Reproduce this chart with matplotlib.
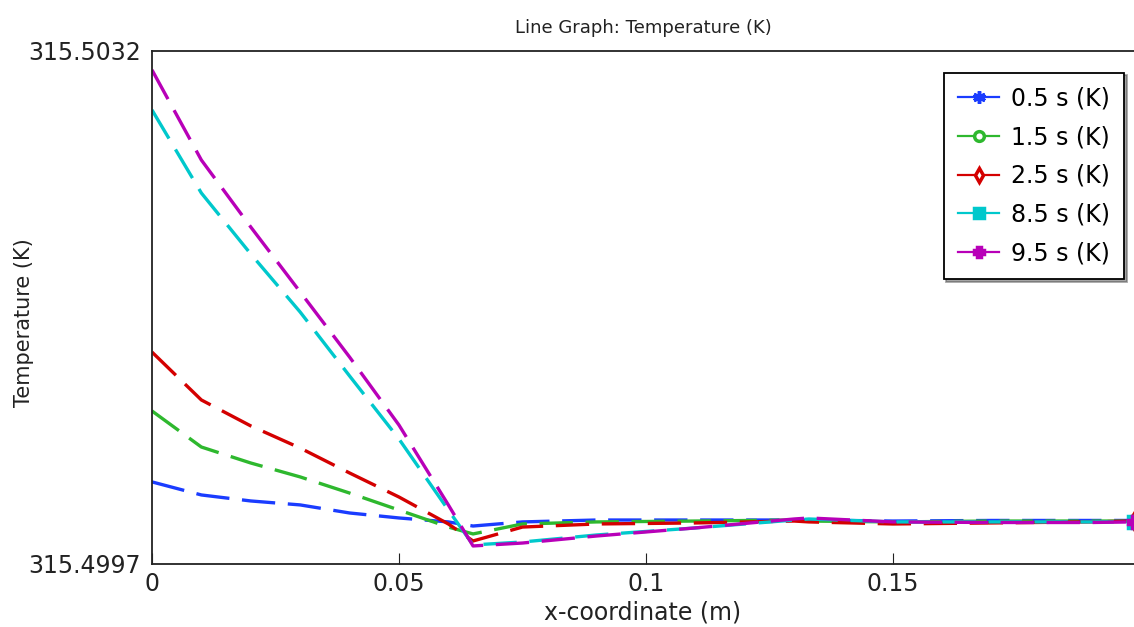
import matplotlib
matplotlib.use("Agg")
import matplotlib.pyplot as plt
from matplotlib.lines import Line2D

# x positions of the sampled points (m)
x_coord = [0, 0.01, 0.02, 0.03, 0.04, 0.05, 0.06, 0.065, 0.075, 0.09,
           0.11, 0.13, 0.133, 0.15, 0.17, 0.19, 0.1987]

temp_05 = [315.500260, 315.500171, 315.500130, 315.500103, 315.500048, 315.500014,
           315.499987, 315.499959, 315.499987, 315.500000, 315.500000, 315.500000,
           315.500000, 315.499993, 315.499997, 315.499997, 315.499997]
temp_15 = [315.500744, 315.500498, 315.500389, 315.500294, 315.500184, 315.500068,
           315.499952, 315.499905, 315.499973, 315.499987, 315.499993, 315.500000,
           315.499993, 315.499987, 315.499993, 315.499993, 315.499993]
temp_25 = [315.501146, 315.500819, 315.500642, 315.500491, 315.500321, 315.500157,
           315.499973, 315.499857, 315.499952, 315.499973, 315.499980, 315.499993,
           315.499987, 315.499973, 315.499980, 315.499987, 315.499993]
temp_85 = [315.502798, 315.502231, 315.501815, 315.501419, 315.500983, 315.500553,
           315.500068, 315.499830, 315.499850, 315.499898, 315.499946, 315.500000,
           315.500007, 315.499987, 315.499987, 315.499987, 315.499987]
temp_95 = [315.503071, 315.502456, 315.501999, 315.501556, 315.501112, 315.500648,
           315.500103, 315.499823, 315.499843, 315.499891, 315.499946, 315.500007,
           315.500014, 315.499987, 315.499983, 315.499983, 315.499987]

labels = ["0.5 s (K)", "1.5 s (K)", "2.5 s (K)", "8.5 s (K)", "9.5 s (K)"]
colors = ["#1a3cff", "#2eb82e", "#d40000", "#00c8cc", "#b800b8"]
markers = [(6, 2, 0), "o", "d", "s", "P"]
filled = [True, False, False, True, True]

y_min, y_max = 315.4997, 315.5032

fig = plt.figure(figsize=(11.34, 6.27), dpi=100)
ax = fig.add_axes([0.134, 0.1005, 0.866, 0.8182])

series = [temp_05, temp_15, temp_25, temp_85, temp_95]
handles = []
for y, lab, c, m, f in zip(series, labels, colors, markers, filled):
    ax.plot(x_coord, y, color=c, lw=2.4, dashes=(10, 3.8))
    ax.plot(x_coord[-1:], y[-1:], color=c, marker=m, ms=8,
            mfc=c if f else "white", mec=c, mew=2.5, ls="none")
    handles.append(Line2D([], [], color=c, lw=1.6, marker=m,
                          ms=9 if m == markers[0] else 7,
                          mfc=c if f else "white", mec=c, mew=2.5, label=lab))

ax.set_xlim(0, 0.1988)
ax.set_ylim(y_min, y_max)
ax.set_xticks([0, 0.05, 0.1, 0.15])
ax.set_xticklabels(["0", "0.05", "0.1", "0.15"])
ax.set_yticks([y_min, y_max])
ax.set_yticklabels(["%.4f" % y_min, "%.4f" % y_max])
ax.tick_params(axis="x", direction="in", length=8, labelsize=17, pad=6, colors="#222222")
ax.tick_params(axis="y", length=0, labelsize=17, pad=8, colors="#222222")
ax.spines["right"].set_visible(False)
for s in ["left", "top", "bottom"]:
    ax.spines[s].set_linewidth(1.3)
    ax.spines[s].set_color("#222222")

ax.set_xlabel("x-coordinate (m)", fontsize=17, labelpad=3, color="#222222")
ax.set_ylabel("Temperature (K)", fontsize=15, color="#222222")
ax.yaxis.set_label_coords(-0.12, 0.47)
ax.set_title("Line Graph: Temperature (K)", fontsize=13, pad=13, color="#222222")

leg = ax.legend(handles=handles, loc="upper right", bbox_to_anchor=(0.99, 0.958),
                fontsize=17, frameon=True, fancybox=False, shadow=True,
                handlelength=1.75, labelspacing=0.62, borderpad=0.6,
                handletextpad=0.5, borderaxespad=0)
leg.get_frame().set_edgecolor("black")
leg.get_frame().set_linewidth(1.3)

fig.savefig("out.png", dpi=100)
